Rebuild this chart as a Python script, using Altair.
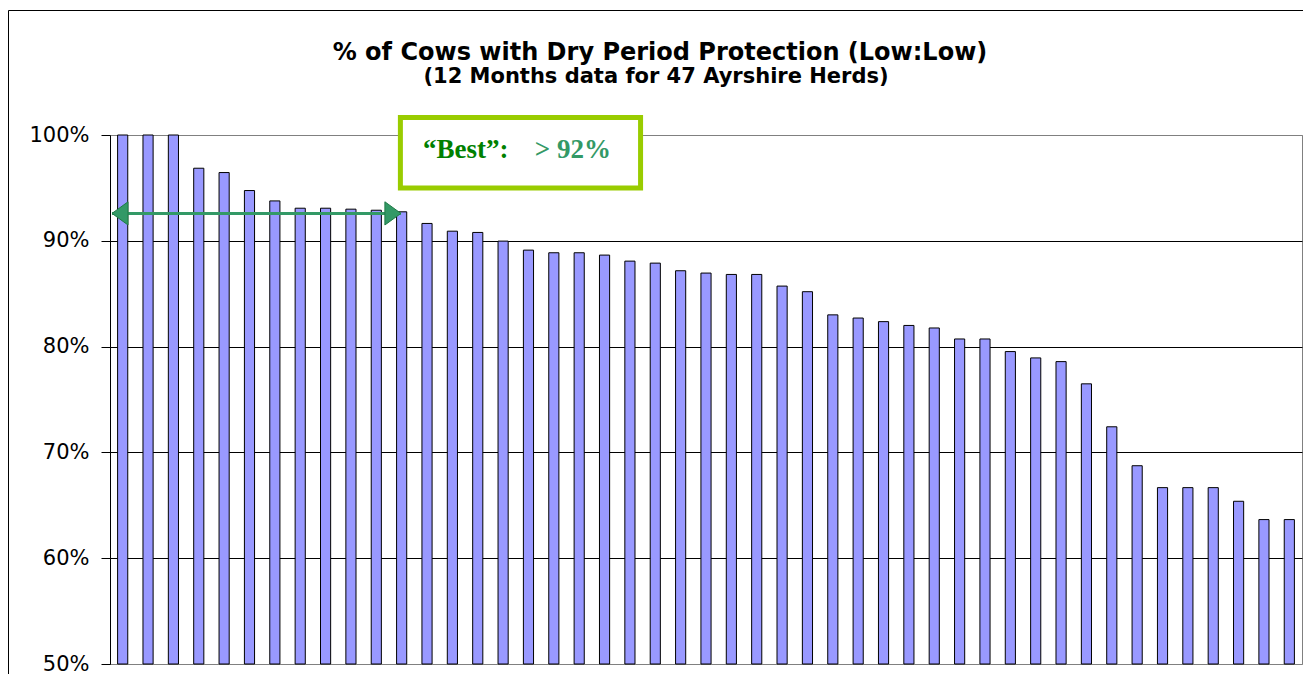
import altair as alt
import pandas as pd

# ---------------- data ----------------
herds = [str(i) for i in range(1, 48)]
pct = [1.0, 1.0, 1.0, 0.9686, 0.9645, 0.9475, 0.9377, 0.9308, 0.9308, 0.9299,
       0.9289, 0.9274, 0.9164, 0.9091, 0.9079, 0.8997, 0.8912, 0.8887, 0.8887, 0.8865,
       0.8808, 0.8789, 0.8717, 0.8695, 0.8682, 0.8682, 0.8572, 0.8519, 0.8300, 0.8270,
       0.8236, 0.8200, 0.8176, 0.8072, 0.8072, 0.7953, 0.7893, 0.7858, 0.7648, 0.7242,
       0.6874, 0.6667, 0.6667, 0.6667, 0.6538, 0.6365, 0.6365]
y_ticks = [0.5, 0.6, 0.7, 0.8, 0.9, 1.0]
title_text = ["% of Cows with Dry Period Protection (Low:Low)"]
subtitle_text = ["(12 Months data for 47 Ayrshire Herds)"]
best_word = ["\u201cBest\u201d:"]
best_value = ["> 92%"]

# annotation placement (in data units: x = herd slots 0..47, y = share)
best_level = 0.9259
arrow_from, arrow_to = 0.08, 11.47
box_x, box_x2, box_y, box_y2 = 11.45, 20.92, 1.0165, 0.950
text_left, text_right, text_y = 12.34, 19.75, 0.9783

W, H = 1192, 529
df = pd.DataFrame({"herd": herds, "pct": pct})

y_scale = alt.Scale(domain=[0.5, 1.0], nice=False, zero=False)
xq = alt.Scale(domain=[0, 47], nice=False, zero=False)
y_axis = alt.Axis(values=y_ticks, format=".0%", title=None, grid=True,
                  gridColor={"condition": {"test": "datum.value > 0.995 || datum.value < 0.505",
                                           "value": "#808080"},
                             "value": "#000000"},
                  gridWidth=1, domainColor="#000000", domainWidth=1,
                  tickColor="#000000", tickWidth=1, tickSize=9,
                  labelFont="DejaVu Sans", labelFontSize=21, labelColor="#000000",
                  labelPadding=12)


def yq(field):
    return alt.Y(field, scale=y_scale, axis=y_axis)


frame = alt.Chart(pd.DataFrame({"k": [0]})).mark_rect(
    fillOpacity=0, stroke="#000000", strokeWidth=1
).encode(x=alt.value(-101.5), x2=alt.value(1500), y=alt.value(-124.5), y2=alt.value(800))

bars = alt.Chart(df).mark_bar(color="#9999FF", stroke="#000000", strokeWidth=1).encode(
    x=alt.X("herd:O", sort=None, axis=None,
            scale=alt.Scale(paddingInner=0.6, paddingOuter=0.3)),
    y=yq("pct:Q"),
    y2=alt.datum(0.5),
)

title = alt.Chart(pd.DataFrame({"t": title_text})).mark_text(
    font="DejaVu Sans", fontWeight="bold", fontSize=24, align="center",
    baseline="alphabetic", color="#000000"
).encode(text="t:N", x=alt.value(550), y=alt.value(-75))

subtitle = alt.Chart(pd.DataFrame({"t": subtitle_text})).mark_text(
    font="DejaVu Sans", fontWeight="bold", fontSize=21, align="center",
    baseline="alphabetic", color="#000000"
).encode(text="t:N", x=alt.value(546), y=alt.value(-52))

box = alt.Chart(pd.DataFrame({"x": [box_x], "x2": [box_x2], "y": [box_y], "y2": [box_y2]})).mark_rect(
    fill="#FFFFFF", stroke="#99CC00", strokeWidth=5
).encode(x=alt.X("x:Q", scale=xq, axis=None), x2="x2:Q", y=yq("y:Q"), y2="y2:Q")

word = alt.Chart(pd.DataFrame({"t": best_word, "x": [text_left], "y": [text_y]})).mark_text(
    font="Liberation Serif", fontWeight="bold", fontSize=27, align="left",
    baseline="alphabetic", color="#008000"
).encode(text="t:N", x=alt.X("x:Q", scale=xq, axis=None), y=yq("y:Q"))

value = alt.Chart(pd.DataFrame({"t": best_value, "x": [text_right], "y": [text_y]})).mark_text(
    font="Liberation Serif", fontWeight="bold", fontSize=27, align="right",
    baseline="alphabetic", color="#339966"
).encode(text="t:N", x=alt.X("x:Q", scale=xq, axis=None), y=yq("y:Q"))

arrow_df = pd.DataFrame({"x": [arrow_from], "x2": [arrow_to], "y": [best_level]})
shaft = alt.Chart(arrow_df).mark_rule(color="#339966", strokeWidth=3).encode(
    x=alt.X("x:Q", scale=xq, axis=None), x2="x2:Q", y=yq("y:Q"))

left_head = alt.Chart(pd.DataFrame({"x": [arrow_from], "y": [best_level]})).mark_point(
    shape="M0,0L2,-1.45L2,1.45Z", filled=True, size=256, fill="#339966",
    stroke="#1F7A45", strokeWidth=1, opacity=1
).encode(x=alt.X("x:Q", scale=xq, axis=None), y=yq("y:Q"))

right_head = alt.Chart(pd.DataFrame({"x": [arrow_to], "y": [best_level]})).mark_point(
    shape="M0,0L-2,-1.45L-2,1.45Z", filled=True, size=256, fill="#339966",
    stroke="#1F7A45", strokeWidth=1, opacity=1
).encode(x=alt.X("x:Q", scale=xq, axis=None), y=yq("y:Q"))

chart = alt.layer(
    frame, bars, title, subtitle, box, word, value, shaft, left_head, right_head
).resolve_scale(x="independent").properties(
    width=W, height=H,
    autosize=alt.AutoSizeParams(type="none"),
    padding={"left": 102, "top": 127, "right": 1, "bottom": 10},
    background="#FFFFFF",
).configure_view(stroke="#808080", strokeWidth=1)

chart.save("out.html", embed_options={"renderer": "svg", "actions": False})
